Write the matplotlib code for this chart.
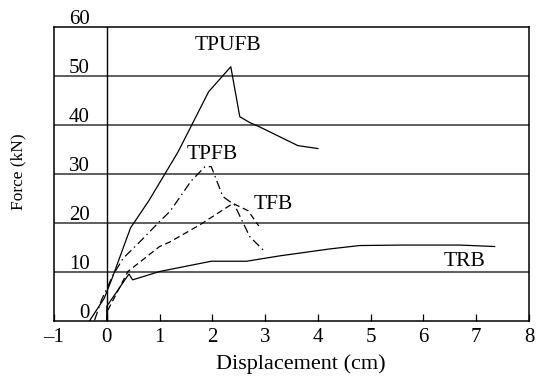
import matplotlib
matplotlib.use("Agg")
import matplotlib.pyplot as plt

# Force-displacement curves
tpufb_x = [-0.33, -0.05, 0.1, 0.45, 0.8, 1.35, 1.93, 2.35, 2.52, 2.71, 2.9, 3.62, 4.0]
tpufb_y = [0.0, 4.6, 8.7, 19.0, 24.6, 34.5, 46.8, 51.9, 41.7, 40.5, 39.6, 35.8, 35.2]

tpfb_x = [-0.23, -0.1, 0.12, 0.31, 0.63, 1.0, 1.2, 1.6, 1.86, 1.98, 2.2, 2.42, 2.71, 3.0]
tpfb_y = [0.2, 4.3, 9.4, 12.8, 16.2, 20.3, 22.4, 28.6, 31.5, 31.5, 25.4, 23.7, 17.2, 14.1]

tfb_x = [0.0, 0.02, 0.4, 1.0, 1.19, 1.76, 2.39, 2.68, 2.88]
tfb_y = [0.2, 2.2, 10.1, 15.2, 16.1, 19.6, 24.0, 22.5, 19.4]

trb_x = [0.0, 0.0, 0.42, 0.49, 1.0, 1.98, 2.65, 3.28, 4.22, 4.79, 5.6, 6.69, 7.35]
trb_y = [0.0, 3.0, 9.6, 8.4, 10.1, 12.2, 12.2, 13.3, 14.7, 15.4, 15.5, 15.5, 15.2]

labels = ["TPUFB", "TPFB", "TFB", "TRB"]
label_x = [2.29, 2.0, 3.15, 6.78]
label_y = [56.3, 33.9, 23.7, 12.2]

xticks = [-1, 0, 1, 2, 3, 4, 5, 6, 7, 8]
xtick_labels = ["\u20131", "0", "1", "2", "3", "4", "5", "6", "7", "8"]
yticks = [0, 10, 20, 30, 40, 50, 60]

plt.rcParams["font.family"] = ["Liberation Serif", "DejaVu Serif"]
plt.rcParams["font.size"] = 15

fig = plt.figure(figsize=(5.39, 3.81), dpi=100)
ax = fig.add_axes([0.1002, 0.1575, 0.8812, 0.7715])

lw = 0.9
ax.plot(tpufb_x, tpufb_y, color="black", lw=lw, ls="-")
ax.plot(tpfb_x, tpfb_y, color="black", lw=lw, ls=(0, (7, 3, 1.2, 3)))
ax.plot(tfb_x, tfb_y, color="black", lw=lw, ls=(0, (5, 3)))
ax.plot(trb_x, trb_y, color="black", lw=lw, ls="-")

for name, lx, ly in zip(labels, label_x, label_y):
    ax.text(lx, ly, name, ha="center", va="center", fontsize=15.5)

# horizontal grid and the zero line
for yv in yticks[1:-1]:
    ax.axhline(yv, color="#333333", lw=1.1, zorder=0)
ax.axvline(0, color="black", lw=1.0, zorder=0)

ax.set_xlim(-1, 8)
ax.set_ylim(0, 60)
ax.set_xticks(xticks)
ax.set_xticklabels(xtick_labels)
ax.tick_params(axis="x", direction="in", length=5, width=0.9, pad=5)
ax.set_yticks([])
for sp in ax.spines.values():
    sp.set_linewidth(1.1)

for yv in yticks:
    ax.text(-0.32, yv + 0.6, str(yv), ha="right", va="baseline")

ax.set_xlabel("Displacement (cm)", fontsize=16, va="center")
ax.xaxis.set_label_coords(0.52, -0.146)
ax.set_ylabel("Force (kN)", fontsize=12.5, va="center")
ax.yaxis.set_label_coords(-0.076, 0.507)

fig.savefig("out.png", dpi=100)
